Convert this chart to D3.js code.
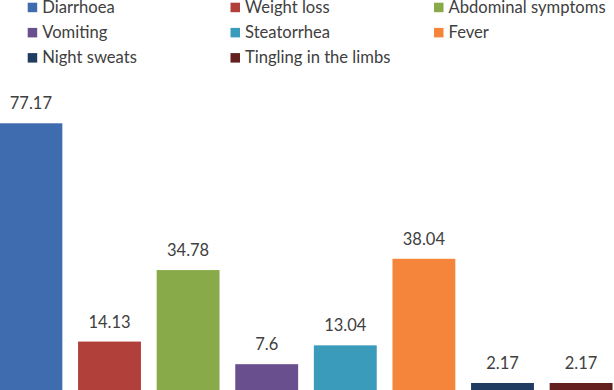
<!DOCTYPE html>
<html>
<head>
<meta charset="utf-8">
<script src="https://cdn.jsdelivr.net/npm/d3@7"></script>
<style>
  body { margin: 0; background: #fff; }
  svg { display: block; }
</style>
</head>
<body>
<svg id="chart" width="614" height="390"></svg>
<script>
var symptoms = ["Diarrhoea", "Weight loss", "Abdominal symptoms", "Vomiting",
                "Steatorrhea", "Fever", "Night sweats", "Tingling in the limbs"];
var percents = [77.17, 14.13, 34.78, 7.6, 13.04, 38.04, 2.17, 2.17];
var barColors = ["#3f6cae", "#b1403b", "#89aa48", "#6a4f8f",
                 "#3b9bba", "#f5853a", "#213c61", "#63201f"];

var svg = d3.select("#chart");
var textFont = "Lato, 'Liberation Sans', sans-serif";

// x: one band per symptom, chart is cut at the edges like the picture
var x = d3.scaleBand()
    .domain(symptoms)
    .range([-8.4, 620.4])
    .paddingInner(0.2)
    .paddingOuter(0.1);

var y = d3.scaleLinear()
    .domain([0, 80])
    .range([390.5, 113.5]);

var kleur = d3.scaleOrdinal().domain(symptoms).range(barColors);

var data = symptoms.map(function (s, i) { return { navn: s, verdi: percents[i] }; });

svg.selectAll("rect.bar")
    .data(data)
    .enter().append("rect")
    .attr("class", "bar")
    .attr("x", function (d) { return x(d.navn); })
    .attr("y", function (d) { return y(d.verdi); })
    .attr("width", x.bandwidth())
    .attr("height", function (d) { return y(0) - y(d.verdi); })
    .attr("fill", function (d) { return kleur(d.navn); });

svg.selectAll("text.verdi")
    .data(data)
    .enter().append("text")
    .attr("class", "verdi")
    .attr("x", function (d) { return x(d.navn) + x.bandwidth() / 2; })
    .attr("y", function (d) { return y(d.verdi) - 14; })
    .attr("text-anchor", "middle")
    .style("font-family", textFont)
    .style("font-size", "16.5px")
    .style("fill", "#404040")
    .text(function (d) { return d.verdi; });

// legend, 3 columns
var legendCols = [27.7, 230.5, 434];
var legend = svg.selectAll("g.legend")
    .data(symptoms)
    .enter().append("g")
    .attr("class", "legend")
    .attr("transform", function (d, i) {
        return "translate(" + legendCols[i % 3] + "," + (2.7 + Math.floor(i / 3) * 25.2) + ")";
    });

legend.append("rect")
    .attr("width", 9.5)
    .attr("height", 9.5)
    .attr("fill", function (d) { return kleur(d); });

legend.append("text")
    .attr("x", 14.5)
    .attr("y", 10)
    .style("font-family", textFont)
    .style("font-size", "16.6px")
    .style("fill", "#404040")
    .text(function (d) { return d; });
</script>
</body>
</html>
